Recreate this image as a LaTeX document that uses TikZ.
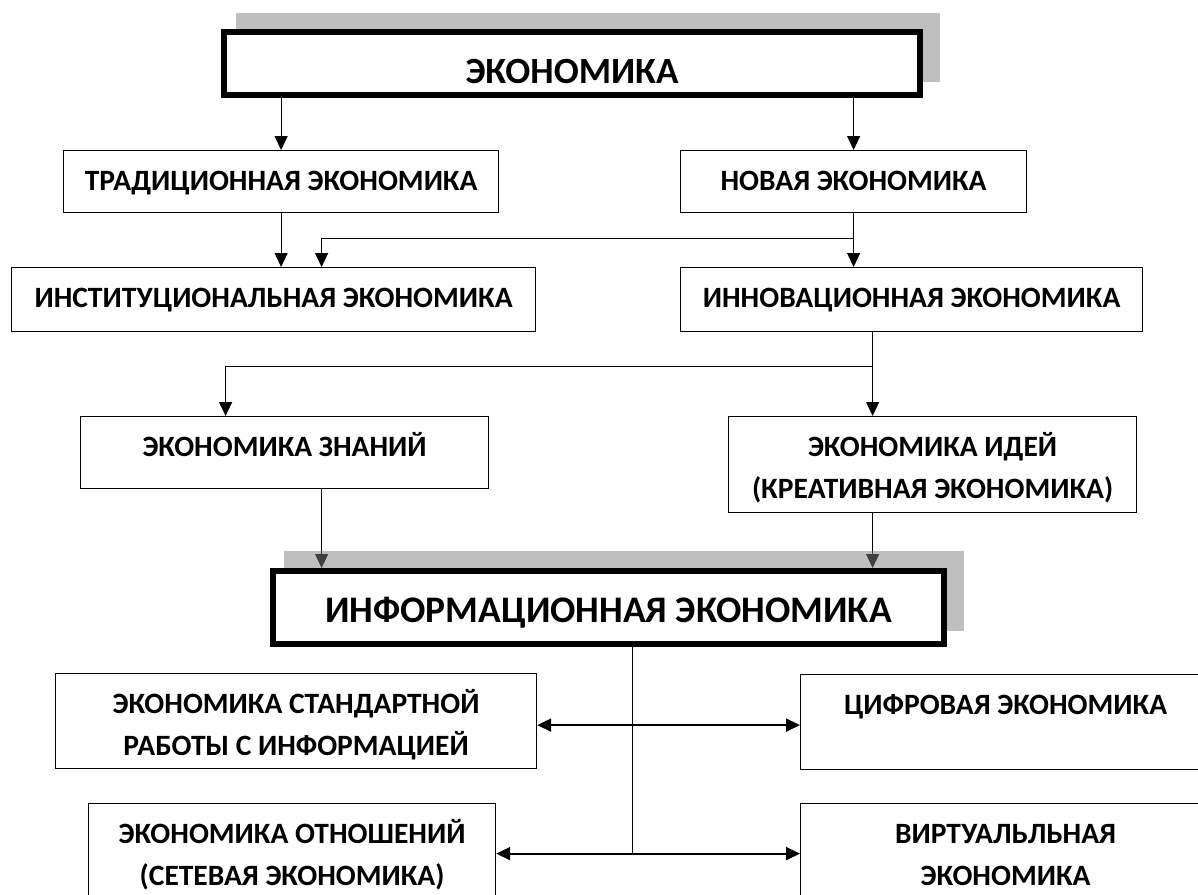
\documentclass[tikz,border=0pt]{standalone}
\usepackage{fontspec}
\setmainfont{Carlito}
\usetikzlibrary{arrows.meta,backgrounds}

\begin{document}
\begin{tikzpicture}[x=1pt,y=-1pt,
  box/.style={draw, line width=1.2pt, fill=white, inner sep=0pt, anchor=north west,
    text height=40pt, align=center, font=\bfseries\fontsize{29.5}{42}\selectfont},
  twoline/.style={text height=82pt},
  mainbox/.style={draw, line width=6pt, fill=white, inner sep=0pt, anchor=north west,
    text height=51pt, align=center},
  boxshadow/.style={fill=black!50, opacity=.5},
  arr/.style={line width=1.2pt, -{Triangle[length=14pt,width=13pt]}},
  link/.style={line width=1.2pt},
  dbl/.style={line width=2pt, {Triangle[length=14pt,width=13pt]}-{Triangle[length=14pt,width=13pt]}}]
\useasboundingbox (0,0) rectangle (1198,894);

\node[mainbox, minimum width=696pt, text depth=12pt, font=\bfseries\fontsize{37}{46}\selectfont] (econ) at (221,29) {ЭКОНОМИКА};
\node[box, minimum width=435pt, text depth=22pt] (trad) at (63,150) {ТРАДИЦИОННАЯ ЭКОНОМИКА};
\node[box, minimum width=346pt, text depth=22pt] (novaya) at (680,150) {НОВАЯ ЭКОНОМИКА};
\node[box, minimum width=524pt, text depth=24pt] (inst) at (11,267) {ИНСТИТУЦИОНАЛЬНАЯ ЭКОНОМИКА};
\node[box, minimum width=462pt, text depth=24pt] (innov) at (680,267) {ИННОВАЦИОННАЯ ЭКОНОМИКА};
\node[box, minimum width=408pt, text depth=32pt] (znan) at (80,416) {ЭКОНОМИКА ЗНАНИЙ};
\node[box, twoline, minimum width=408pt, text depth=14pt] (idei) at (728,416) {ЭКОНОМИКА ИДЕЙ\\(КРЕАТИВНАЯ ЭКОНОМИКА)};
\node[mainbox, minimum width=671pt, text depth=22pt, font=\bfseries\fontsize{37.5}{46}\selectfont] (info) at (270,568) {ИНФОРМАЦИОННАЯ ЭКОНОМИКА};
\node[box, twoline, minimum width=481pt, text depth=13pt] (std) at (55,673) {ЭКОНОМИКА СТАНДАРТНОЙ\\РАБОТЫ С ИНФОРМАЦИЕЙ};
\node[box, minimum width=410pt, text depth=55pt] (cifr) at (800,674) {ЦИФРОВАЯ ЭКОНОМИКА};
\node[box, twoline, minimum width=407pt, text depth=18pt] (otn) at (88,803) {ЭКОНОМИКА ОТНОШЕНИЙ\\(СЕТЕВАЯ ЭКОНОМИКА)};
\node[box, twoline, minimum width=410pt, text depth=18pt] (virt) at (800,803) {ВИРТУАЛЬЛЬНАЯ\\ЭКОНОМИКА};

\coordinate (split) at ([xshift=-39pt]innov.south);
\coordinate (zn) at ([xshift=37pt]znan.south);
\coordinate (id) at ([xshift=-60pt]idei.south);
\coordinate (hub) at ([xshift=24pt]info.south);
\coordinate (sd) at ([yshift=-4pt]std.east);

\begin{scope}[on background layer]
\draw[arr] (econ.south -| trad.north) -- (trad.north);
\draw[arr] (econ.south -| novaya.north) -- (novaya.north);
\draw[arr] (trad.south) -- (trad.south |- inst.north);
\draw[arr] (novaya.south) -- (novaya.south |- innov.north);
\draw[arr] (novaya.south) -- ++(0,25) -| ([xshift=48pt]inst.north);
\draw[arr] (split) -- (split |- idei.north);
\draw[arr] (split) -- ++(0,34) -| ([xshift=-59pt]znan.north);
\draw[arr] (zn) -- (zn |- info.north);
\draw[arr] (id) -- (id |- info.north);
\draw[link] (hub) -- (hub |- otn.east);
\draw[dbl] (sd) -- (sd -| cifr.west);
\draw[dbl] (otn.east) -- (otn.east -| virt.west);
\fill[boxshadow] ([shift={(15,-16)}]econ.north west) rectangle ([shift={(17,-16)}]econ.south east);
\fill[boxshadow] ([shift={(14,-17)}]info.north west) rectangle ([shift={(17,-16)}]info.south east);
\end{scope}
\end{tikzpicture}
\end{document}
